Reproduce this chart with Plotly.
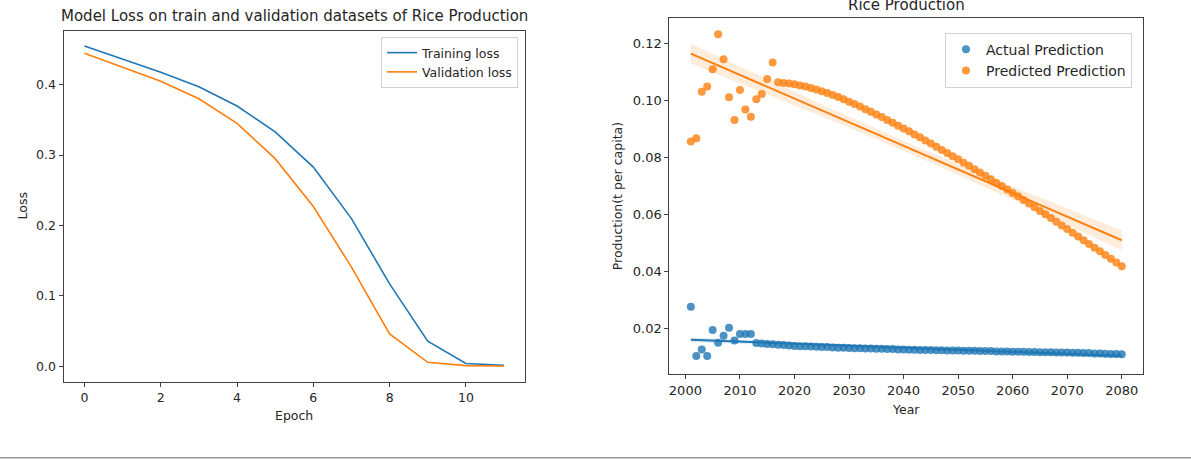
import numpy as np
import plotly.graph_objects as go

W, H = 1191, 459

# ---------------- data ----------------
epochs = list(range(12))
training_loss = [0.455, 0.436, 0.4176, 0.397, 0.3697, 0.333, 0.283, 0.2098, 0.117, 0.0356, 0.004, 0.0015]
validation_loss = [0.4447, 0.425, 0.405, 0.380, 0.345, 0.295, 0.227, 0.141, 0.046, 0.0057, 0.001, 0.0005]

years = list(range(2001, 2081))
actual_prediction = [
    0.0276, 0.0103, 0.0126, 0.0103, 0.0194, 0.0149, 0.0174, 0.0202, 0.0157, 0.0180,
    0.0180, 0.0180, 0.0148, 0.0147, 0.0145, 0.0144, 0.0142, 0.0141, 0.0140, 0.0138,
    0.0137, 0.0137, 0.0136, 0.0135, 0.0134, 0.0134, 0.0133, 0.0132, 0.0132, 0.0131,
    0.0130, 0.0130, 0.0129, 0.0129, 0.0128, 0.0128, 0.0127, 0.0127, 0.0126, 0.0126,
    0.0125, 0.0125, 0.0124, 0.0124, 0.0124, 0.0123, 0.0123, 0.0122, 0.0122, 0.0122,
    0.0121, 0.0121, 0.0121, 0.0120, 0.0120, 0.0120, 0.0119, 0.0119, 0.0119, 0.0118,
    0.0118, 0.0118, 0.0117, 0.0117, 0.0116, 0.0116, 0.0116, 0.0115, 0.0115, 0.0115,
    0.0114, 0.0114, 0.0113, 0.0113, 0.0112, 0.0112, 0.0111, 0.0110, 0.0110, 0.0109,
]
predicted_prediction = [
    0.0855, 0.0867, 0.1030, 0.1048, 0.1109, 0.1232, 0.1144, 0.1011, 0.0931, 0.1036,
    0.0968, 0.0942, 0.1004, 0.1022, 0.1075, 0.1133, 0.1063, 0.1061, 0.1059, 0.1056,
    0.1052, 0.1048, 0.1043, 0.1038, 0.1032, 0.1026, 0.1019, 0.1012, 0.1004, 0.0995,
    0.0987, 0.0978, 0.0969, 0.0960, 0.0950, 0.0941, 0.0931, 0.0921, 0.0911, 0.0901,
    0.0891, 0.0880, 0.0870, 0.0859, 0.0848, 0.0837, 0.0826, 0.0815, 0.0804, 0.0793,
    0.0781, 0.0770, 0.0758, 0.0747, 0.0735, 0.0723, 0.0711, 0.0699, 0.0687, 0.0675,
    0.0663, 0.0650, 0.0638, 0.0625, 0.0612, 0.0600, 0.0587, 0.0574, 0.0561, 0.0548,
    0.0535, 0.0522, 0.0509, 0.0496, 0.0483, 0.0470, 0.0457, 0.0444, 0.0431, 0.0418,
]

x_ticks_left = [0, 2, 4, 6, 8, 10]
y_ticks_left = [0.0, 0.1, 0.2, 0.3, 0.4]
x_ticks_right = [2000, 2010, 2020, 2030, 2040, 2050, 2060, 2070, 2080]
y_ticks_right = [0.02, 0.04, 0.06, 0.08, 0.10, 0.12]

BLUE = "#1f77b4"
ORANGE = "#ff7f0e"
FONT = "DejaVu Sans"
TXT = "#262626"
AX = "#404040"


def px_x(p):
    return p / W


def px_y(p):
    return 1 - p / H


def regression(xs, ys):
    x = np.asarray(xs, dtype=float)
    y = np.asarray(ys, dtype=float)
    n = len(x)
    b, a = np.polyfit(x, y, 1)
    xg = np.linspace(x.min(), x.max(), 100)
    yg = a + b * xg
    resid = y - (a + b * x)
    s = np.sqrt(np.sum(resid ** 2) / (n - 2))
    sxx = np.sum((x - x.mean()) ** 2)
    se = s * np.sqrt(1.0 / n + (xg - x.mean()) ** 2 / sxx)
    t = 1.99
    return xg, yg, yg - t * se, yg + t * se


fig = go.Figure()

# ---------------- left: loss curves ----------------
fig.add_trace(go.Scatter(x=epochs, y=training_loss, mode="lines", name="Training loss",
                         line=dict(color=BLUE, width=1.6), xaxis="x", yaxis="y", legend="legend"))
fig.add_trace(go.Scatter(x=epochs, y=validation_loss, mode="lines", name="Validation loss",
                         line=dict(color=ORANGE, width=1.6), xaxis="x", yaxis="y", legend="legend"))

# ---------------- right: scatter + regression ----------------
fig.add_trace(go.Scatter(x=years, y=actual_prediction, mode="markers", name="Actual Prediction",
                         marker=dict(color=BLUE, size=8, opacity=0.8, line=dict(width=0)),
                         xaxis="x2", yaxis="y2", legend="legend2"))
fig.add_trace(go.Scatter(x=years, y=predicted_prediction, mode="markers", name="Predicted Prediction",
                         marker=dict(color=ORANGE, size=8, opacity=0.8, line=dict(width=0)),
                         xaxis="x2", yaxis="y2", legend="legend2"))

for series, col, fillc in [(actual_prediction, BLUE, "rgba(31,119,180,0.15)"),
                           (predicted_prediction, ORANGE, "rgba(255,127,14,0.15)")]:
    xg, yg, lo, hi = regression(years, series)
    fig.add_trace(go.Scatter(x=xg, y=lo, mode="lines", line=dict(width=0, color=col),
                             showlegend=False, hoverinfo="skip", xaxis="x2", yaxis="y2"))
    fig.add_trace(go.Scatter(x=xg, y=hi, mode="lines", line=dict(width=0, color=col),
                             fill="tonexty", fillcolor=fillc,
                             showlegend=False, hoverinfo="skip", xaxis="x2", yaxis="y2"))
    fig.add_trace(go.Scatter(x=xg, y=yg, mode="lines", line=dict(width=2, color=col),
                             showlegend=False, hoverinfo="skip", xaxis="x2", yaxis="y2"))

axis_common = dict(showline=True, mirror=True, linecolor=AX, linewidth=1,
                   ticks="outside", ticklen=4, tickwidth=1, tickcolor=AX,
                   showgrid=False, zeroline=False)

fig.update_layout(
    width=W, height=H,
    margin=dict(l=0, r=0, t=0, b=0),
    paper_bgcolor="white", plot_bgcolor="white",
    font=dict(family=FONT, color=TXT, size=12),
    xaxis=dict(domain=[px_x(63.5), px_x(525)], range=[-0.55, 11.55], tickvals=x_ticks_left,
               anchor="y", tickfont=dict(size=12.5), **axis_common),
    yaxis=dict(domain=[px_y(382), px_y(31)], range=[-0.0223, 0.4763], tickvals=y_ticks_left,
               tickformat=".1f", anchor="x", tickfont=dict(size=12.5), **axis_common),
    xaxis2=dict(domain=[px_x(669.3), px_x(1143.3)], range=[1997.05, 2083.95], tickvals=x_ticks_right,
                anchor="y2", tickfont=dict(size=13), **axis_common),
    yaxis2=dict(domain=[px_y(374.3), px_y(18.3)], range=[0.00386, 0.12877], tickvals=y_ticks_right,
                tickformat=".2f", anchor="x2", tickfont=dict(size=13), **axis_common),
    legend=dict(x=px_x(518), y=px_y(37), xanchor="right", yanchor="top", traceorder="normal",
                bordercolor="#d0d0d0", borderwidth=1, bgcolor="rgba(255,255,255,0.8)",
                font=dict(size=12.5, family=FONT, color=TXT)),
    legend2=dict(x=px_x(1132), y=px_y(32.7), xanchor="right", yanchor="top", traceorder="normal",
                 bordercolor="#d0d0d0", borderwidth=1, bgcolor="rgba(255,255,255,0.8)",
                 font=dict(size=14, family=FONT, color=TXT)),
    showlegend=True,
)

annotations = [
    dict(text="Model Loss on train and validation datasets of Rice Production",
         x=px_x(294.25), y=px_y(15.7), font=dict(size=15)),
    dict(text="Rice Production", x=px_x(906.3), y=px_y(5), font=dict(size=15)),
    dict(text="Epoch", x=px_x(294.25), y=px_y(415), font=dict(size=12.5)),
    dict(text="Loss", x=px_x(22), y=px_y(206.5), font=dict(size=12.5), textangle=-90),
    dict(text="Year", x=px_x(906.3), y=px_y(409), font=dict(size=12.5)),
    dict(text="Production(t per capita)", x=px_x(617), y=px_y(196.3), font=dict(size=12.5), textangle=-90),
]
for a in annotations:
    a.update(xref="paper", yref="paper", showarrow=False, xanchor="center", yanchor="middle")
fig.update_layout(annotations=annotations)

fig.add_shape(type="line", xref="paper", yref="paper", x0=0, x1=1, y0=px_y(457.7), y1=px_y(457.7),
              line=dict(color="#9a9a9a", width=1.5))

fig.write_html("out.html", config={"displayModeBar": False},
               post_script="document.body.style.margin='0px';document.body.style.overflow='hidden';")
